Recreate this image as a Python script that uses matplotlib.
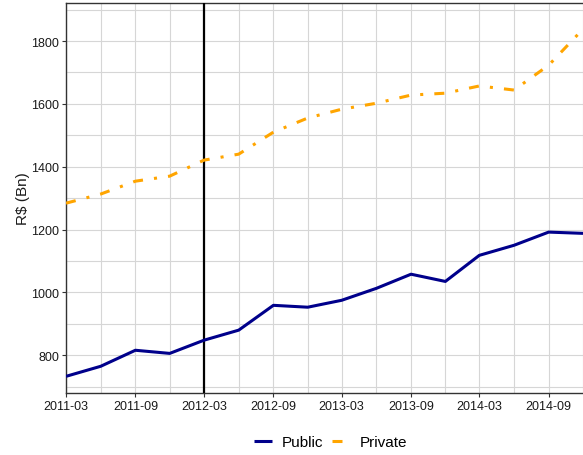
import matplotlib
matplotlib.use("Agg")
import matplotlib.pyplot as plt
import pandas as pd
import numpy as np

plt.rcParams['font.family'] = ['Liberation Sans', 'DejaVu Sans']
plt.rcParams['lines.scale_dashes'] = False

quarters = ["2011-03", "2011-06", "2011-09", "2011-12", "2012-03", "2012-06",
            "2012-09", "2012-12", "2013-03", "2013-06", "2013-09", "2013-12",
            "2014-03", "2014-06", "2014-09", "2014-12"]
public = [733, 765, 816, 806, 848, 880, 959, 953, 975, 1013, 1058, 1035,
          1118, 1150, 1192, 1188]
private = [1284, 1313, 1354, 1370, 1421, 1440, 1510, 1555, 1583, 1602, 1628,
           1634, 1657, 1644, 1723, 1838]
tick_labels = ["2011-03", "2011-09", "2012-03", "2012-09", "2013-03",
               "2013-09", "2014-03", "2014-09"]
marker_date = "2012-03"

dates = pd.to_datetime(quarters, format="%Y-%m")
tick_dates = pd.to_datetime(tick_labels, format="%Y-%m")

fig = plt.figure(figsize=(5.83, 4.56), dpi=100)
ax = fig.add_axes([66/583, 62/456, 1 - 66/583, 390/456])

ax.set_xlim(dates[0], dates[-1])
ax.set_ylim(680, 1921)

# grid
for d in dates:
    ax.axvline(d, color='#d6d6d6', lw=0.8, zorder=0)
for v in np.arange(700, 1901, 100):
    ax.axhline(v, color='#d6d6d6', lw=0.8, zorder=0)

ax.axvline(pd.to_datetime(marker_date), color='black', lw=1.6, zorder=3)

ax.plot(dates, public, color='#00008B', lw=2.2, label='Public', zorder=4,
        solid_capstyle='butt')
ln, = ax.plot(dates, private, color='#FFA500', lw=2.2, label='Private', zorder=4,
              dash_capstyle='butt')
ln.set_dashes([7.2, 8.0, 2.2, 8.0])

ax.set_xticks(tick_dates)
ax.set_xticklabels(tick_labels)
ax.set_yticks([800, 1000, 1200, 1400, 1600, 1800])
ax.tick_params(axis='both', labelsize=9, length=3, width=0.8,
               color='#333333', labelcolor='#1a1a1a', pad=2)

for s in ['left', 'bottom', 'top']:
    ax.spines[s].set_color('#333333')
    ax.spines[s].set_linewidth(1.0)
ax.spines['right'].set_visible(False)

ax.set_ylabel('R$ (Bn)', fontsize=11, color='#1a1a1a', labelpad=1)

leg = fig.legend(handles=ax.get_lines()[-2:], labels=['Public', 'Private'],
                 loc='center', bbox_to_anchor=(0.567, 13/456), ncol=2,
                 frameon=False, fontsize=11, handlelength=1.2,
                 columnspacing=0.6, handletextpad=0.6)

fig.savefig('out.png', dpi=100)
